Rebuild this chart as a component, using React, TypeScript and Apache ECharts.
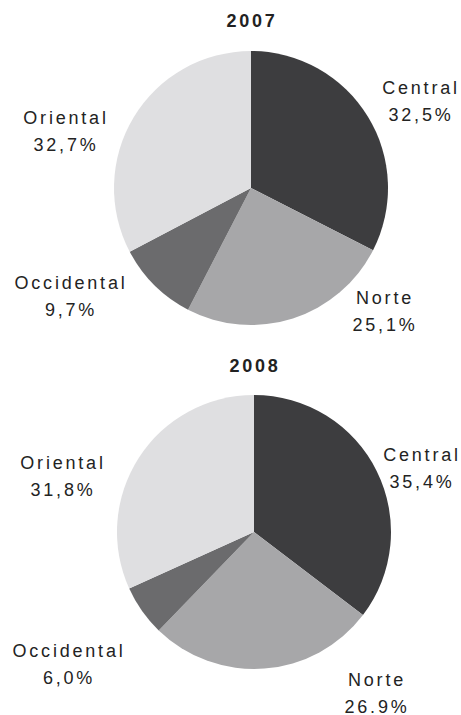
import React, { useEffect, useRef } from "react";
import * as echarts from "echarts";

const regions = ["Central", "Norte", "Occidental", "Oriental"];
const values2007 = [32.5, 25.1, 9.7, 32.7];
const values2008 = [35.4, 26.9, 6.0, 31.8];
const pctLabels2007 = ["32,5%", "25,1%", "9,7%", "32,7%"];
const pctLabels2008 = ["35,4%", "26.9%", "6,0%", "31,8%"];
const years = ["2007", "2008"];
const colors = ["#3d3d3f", "#a7a7a9", "#6b6b6d", "#dfdfe1"];

// label anchor positions (layout only)
const labelPos2007 = [
  [421, 101],
  [385, 311],
  [71, 296],
  [66, 131],
];
const labelPos2008 = [
  [422, 468],
  [377, 693],
  [69, 664],
  [63, 476],
];

export default function App() {
  const ref = useRef<HTMLDivElement>(null);
  useEffect(() => {
    document.body.style.margin = "0";
    if (!ref.current) return;
    const chart = echarts.init(ref.current, undefined, { renderer: "svg" });
    const font = "Liberation Sans, Arial, sans-serif";
    const mkSeries = (
      vals: number[],
      pcts: string[],
      center: [number, number],
      pos: number[][]
    ) => ({
      type: "pie",
      radius: 137,
      center,
      startAngle: 90,
      clockwise: true,
      silent: true,
      emphasis: { disabled: true },
      itemStyle: { borderWidth: 0 },
      data: regions.map((r, i) => ({
        name: r,
        value: vals[i],
        itemStyle: { color: colors[i] },
        label: { formatter: r + "\n" + pcts[i] },
      })),
      label: {
        show: true,
        position: "outside",
        fontFamily: font,
        fontSize: 18,
        lineHeight: 27,
        color: "#232323",
        align: "center",
        overflow: "none",
        width: 200,
      },
      labelLine: { show: false },
      labelLayout: (p: any) => ({
        x: pos[p.dataIndex][0],
        y: pos[p.dataIndex][1],
        align: "center",
        verticalAlign: "middle",
      }),
    });
    chart.setOption({
      animation: false,
      backgroundColor: "#ffffff",
      graphic: [
        {
          type: "text",
          x: 252,
          y: 21,
          style: {
            text: years[0],
            align: "center",
            verticalAlign: "middle",
            font: "bold 18px " + font,
            fill: "#222",
          },
        },
        {
          type: "text",
          x: 255,
          y: 366,
          style: {
            text: years[1],
            align: "center",
            verticalAlign: "middle",
            font: "bold 18px " + font,
            fill: "#222",
          },
        },
      ],
      series: [
        mkSeries(values2007, pctLabels2007, [251, 188], labelPos2007),
        mkSeries(values2008, pctLabels2008, [254, 532], labelPos2008),
      ],
    });
    return () => chart.dispose();
  }, []);
  return (
    <div
      ref={ref}
      style={{ width: 461, height: 715, letterSpacing: "2.8px" }}
    />
  );
}
